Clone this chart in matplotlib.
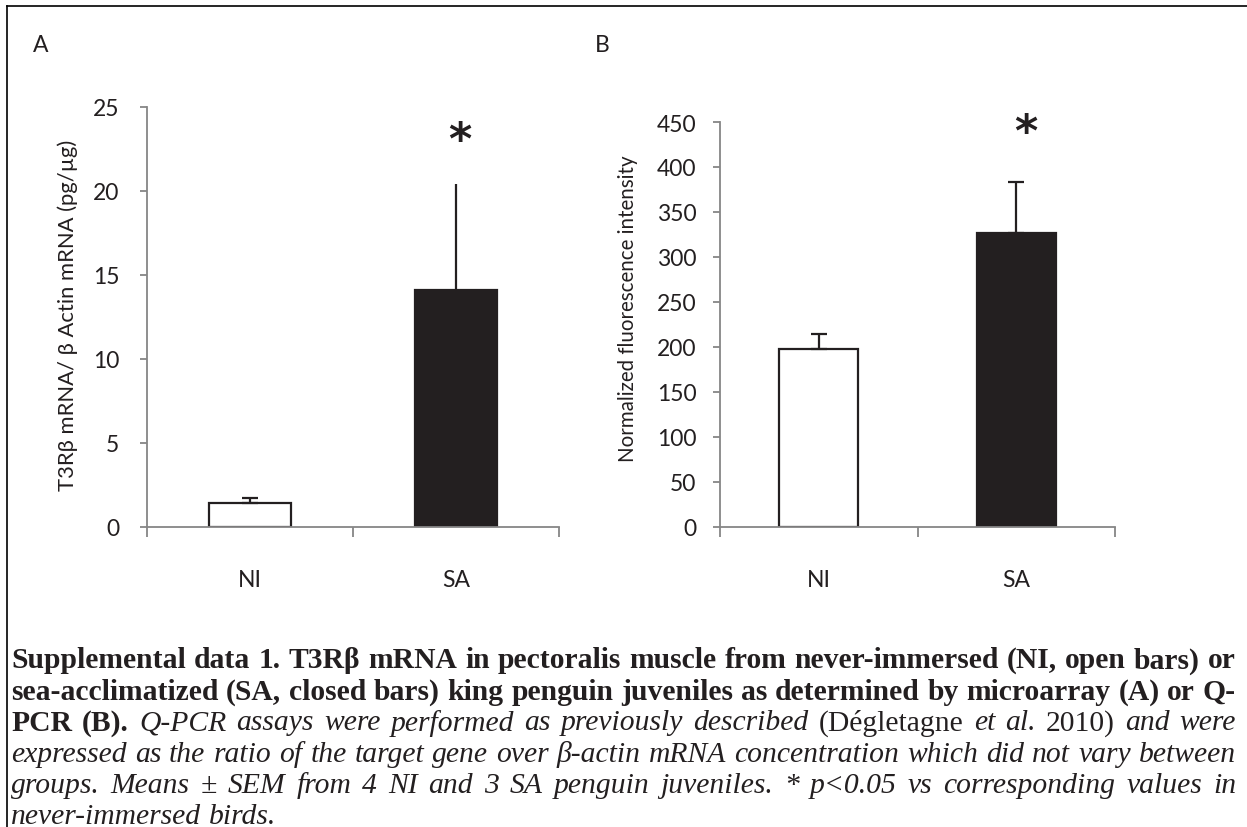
import matplotlib
matplotlib.use("Agg")
import matplotlib.pyplot as plt

# data
groups = ["NI", "SA"]
a_means = [1.4, 14.1]
a_sem = [0.35, 6.3]
b_means = [198, 327]
b_sem = [16, 56]
a_ylabel = "T3Rβ mRNA/ β Actin mRNA (pg/µg)"
b_ylabel = "Normalized fluorescence intensity"

caption_lines = [
    [("Supplemental data 1. T3Rβ mRNA in pectoralis muscle from never-immersed (NI, open bars) or", "b")],
    [("sea-acclimatized (SA, closed bars) king penguin juveniles as determined by microarray (A) or Q-", "b")],
    [("PCR (B).", "b"), ("Q-PCR assays were performed as previously described", "i"),
     ("(Dégletagne", "r"), ("et al.", "i"), ("2010)", "r"), ("and were", "i")],
    [("expressed as the ratio of the target gene over β-actin mRNA concentration which did not vary between", "i")],
    [("groups. Means ± SEM from 4 NI and 3 SA penguin juveniles. * p<0.05 vs corresponding values in", "i")],
    [("never-immersed birds.", "i")],
]

W, H = 1247, 828
fig = plt.figure(figsize=(W / 100, H / 100), dpi=100)
sans = ["Lato", "DejaVu Sans"]
axis_grey = "#868686"
txt_col = "#231f20"


def px_axes(left, top, right, bottom):
    return fig.add_axes([left / W, 1 - bottom / H, (right - left) / W, (bottom - top) / H])


def bar_panel(ax, means, sems, ymax, step, ylabel, caps, star_x, star_y,
              ypad, lab_size, lab_xy):
    x = list(range(len(groups)))
    ax.bar(x, means, width=0.4, color=["white", txt_col], edgecolor=txt_col, linewidth=1.6, zorder=2)
    for xi, m, s, c in zip(x, means, sems, caps):
        ax.errorbar(xi, m, yerr=[[0], [s]], fmt="none", ecolor=txt_col, elinewidth=1.6,
                    capsize=c, capthick=1.6, zorder=3)
    ax.set_xlim(-0.5, len(groups) - 0.5)
    ax.set_ylim(0, ymax)
    ax.set_yticks(range(0, ymax + 1, step))
    ax.set_xticks(x)
    ax.set_xticklabels(groups)
    ax.set_xticks([-0.5, 0.5, 1.5], minor=True)
    ax.tick_params(axis="x", which="major", length=0, pad=30, labelsize=16.5, labelcolor=txt_col)
    ax.tick_params(axis="x", which="minor", length=7, width=1.3, color=axis_grey)
    ax.tick_params(axis="y", length=5, width=1.3, color=axis_grey, pad=ypad, labelsize=16.5,
                   labelcolor=txt_col)
    for lab in ax.get_xticklabels() + ax.get_yticklabels():
        lab.set_family(sans)
    for sp in ["top", "right"]:
        ax.spines[sp].set_visible(False)
    for sp in ["left", "bottom"]:
        ax.spines[sp].set_color(axis_grey)
        ax.spines[sp].set_linewidth(1.3)
    ax.set_ylabel(ylabel, fontsize=lab_size, family=sans, color=txt_col)
    ax.yaxis.set_label_coords(*lab_xy)
    ax.text(star_x, star_y, "*", fontsize=32, fontweight="bold", ha="center", va="center",
            color=txt_col, family="DejaVu Sans", clip_on=False)


ax_a = px_axes(147, 108, 559, 528)
bar_panel(ax_a, a_means, a_sem, 25, 5, a_ylabel, [6, 0], 1.02, 23.0,
          15, 15.8, (-0.167, 0.507))
ax_b = px_axes(720, 123, 1115, 528)
bar_panel(ax_b, b_means, b_sem, 450, 50, b_ylabel, [6, 6], 1.05, 438,
          12, 14.8, (-0.208, 0.542))

fig.text(41 / W, 1 - 46 / H, "A", fontsize=16.5, family=sans, ha="center", va="center", color=txt_col)
fig.text(602 / W, 1 - 46 / H, "B", fontsize=16.5, family=sans, ha="center", va="center", color=txt_col)

# frame: top and left border
fig.add_artist(plt.Line2D([7 / W, 1], [1 - 7 / H, 1 - 7 / H], color="black", lw=1.2))
fig.add_artist(plt.Line2D([7 / W, 7 / W], [0, 1 - 7 / H], color="black", lw=1.2))

# justified caption, word by word
renderer = fig.canvas.get_renderer()
x0, x1 = 11, 1236
y_first, line_gap = 661, 31.2
space_em = 0.25


def make_words(segs, size):
    arts = []
    for txt, st in segs:
        for w in txt.split(" "):
            arts.append(fig.text(0, 0, w, fontsize=size, family="Liberation Serif",
                                 weight="bold" if st == "b" else "normal",
                                 style="italic" if st == "i" else "normal",
                                 va="center", ha="left", color=txt_col))
    return arts


# pick the font size at which the fullest line just fits with normal spaces
ref = 10.0
cap_size = 30.0
for segs in caption_lines[:-1]:
    arts = make_words(segs, ref)
    per_pt = sum(a.get_window_extent(renderer).width for a in arts) / ref
    per_pt += (len(arts) - 1) * space_em * 100 / 72
    cap_size = min(cap_size, (x1 - x0) / per_pt)
    for a in arts:
        a.remove()

for i, segs in enumerate(caption_lines):
    arts = make_words(segs, cap_size)
    widths = [a.get_window_extent(renderer).width for a in arts]
    if i < len(caption_lines) - 1:
        gap = (x1 - x0 - sum(widths)) / (len(arts) - 1)
    else:
        gap = cap_size * 100 / 72 * space_em
    xp = x0
    y = 1 - (y_first + i * line_gap) / H
    for a, wd in zip(arts, widths):
        a.set_position((xp / W, y))
        xp += wd + gap

fig.savefig("out.png", dpi=100)
